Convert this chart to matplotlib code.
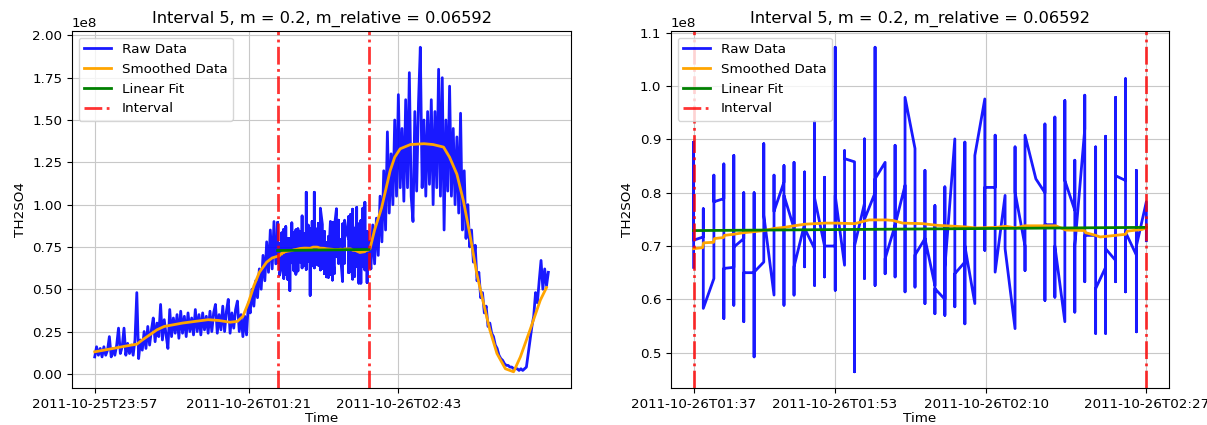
import numpy as np
import matplotlib.pyplot as plt

plt.rcParams['font.size'] = 9.7

# time axis: minutes after 2011-10-25T23:57
interval_start = 100.0   # 01:37
interval_end = 150.0     # 02:27

# raw TH2SO4 (1e8) before the interval, one sample per minute from t=0
pre_values = [
    0.10, 0.16, 0.11, 0.15, 0.10, 0.16, 0.11, 0.14, 0.22, 0.10,
    0.15, 0.11, 0.17, 0.27, 0.12, 0.16, 0.27, 0.11, 0.18, 0.12,
    0.17, 0.11, 0.20, 0.48, 0.09, 0.20, 0.14, 0.25, 0.15, 0.28,
    0.17, 0.26, 0.33, 0.19, 0.30, 0.22, 0.41, 0.20, 0.32, 0.23,
    0.15, 0.38, 0.22, 0.33, 0.24, 0.35, 0.21, 0.37, 0.24, 0.34,
    0.22, 0.36, 0.25, 0.33, 0.23, 0.38, 0.25, 0.35, 0.23, 0.36,
    0.26, 0.34, 0.24, 0.37, 0.25, 0.36, 0.41, 0.24, 0.35, 0.26,
    0.40, 0.25, 0.37, 0.44, 0.24, 0.36, 0.27, 0.38, 0.43, 0.25,
    0.35, 0.22, 0.34, 0.23, 0.42, 0.36, 0.50, 0.40, 0.55, 0.45,
    0.62, 0.50, 0.70, 0.55, 0.78, 0.60, 0.85, 0.62, 0.90, 0.65,
]

# raw TH2SO4 (1e8) after the interval, one sample per minute from t=151
post_values = [
    0.62, 0.88, 0.65, 0.92, 0.70, 1.05, 0.78, 1.20, 0.85, 1.43,
    0.95, 1.30, 1.00, 1.50, 1.05, 1.65, 1.10, 1.45, 1.02, 1.62,
    1.10, 1.78, 1.05, 0.90, 1.55, 1.08, 1.60, 1.93, 1.10, 1.50,
    1.05, 1.55, 1.12, 1.62, 1.00, 1.55, 1.10, 1.80, 1.05, 1.75,
    0.85, 1.50, 1.08, 1.70, 1.05, 1.45, 1.00, 1.40, 0.95, 1.54,
    0.85, 1.20, 0.80, 1.00, 0.75, 0.85, 0.66, 0.76, 0.55, 0.60,
    0.45, 0.48, 0.36, 0.40, 0.28, 0.30, 0.24, 0.22, 0.17, 0.15,
    0.11, 0.09, 0.08, 0.06, 0.05, 0.05, 0.04, 0.04, 0.03, 0.03,
    0.03, 0.02, 0.03, 0.02, 0.03, 0.04, 0.12, 0.20, 0.28, 0.34,
    0.48, 0.42, 0.55, 0.67, 0.50, 0.62, 0.52, 0.60,
]

# raw data inside the interval: minutes after 01:37, several samples per stamp
interval_stamps = [
    0.0, 1.07, 2.24, 3.34, 4.44, 5.54, 6.68, 7.75, 8.88, 9.98,
    11.09, 12.26, 13.36, 14.46, 15.64, 16.67, 17.77, 18.87, 20.04, 21.15,
    22.25, 23.35, 24.45, 25.55, 26.65, 27.75, 28.85, 29.96, 31.06, 32.16,
    33.3, 34.4, 35.5, 36.6, 37.8, 38.8, 39.9, 41.0, 42.1, 43.2,
    44.4, 45.5, 46.6, 47.7, 48.9, 50.0,
]
interval_samples = [
    [0.66, 0.895, 0.711], [0.717, 0.77, 0.583], [0.639, 0.833, 0.783],
    [0.789, 0.854, 0.564, 0.658], [0.66, 0.87, 0.589, 0.698],
    [0.714, 0.80, 0.558, 0.65], [0.65, 0.80, 0.492, 0.651],
    [0.67, 0.892, 0.673, 0.758], [0.608, 0.833, 0.765],
    [0.82, 0.851, 0.589, 0.795], [0.733, 0.857, 0.608, 0.661],
    [0.742, 0.839, 0.661, 0.733], [0.695, 0.933, 0.626, 0.79],
    [0.70, 0.829, 0.642, 0.70], [0.70, 1.073, 0.617, 0.795],
    [0.664, 0.879, 0.864], [0.858, 0.464, 0.70],
    [0.78, 0.901, 0.639, 0.75], [0.80, 1.073, 0.626, 0.826],
    [0.857, 0.648, 0.676], [0.739, 0.889, 0.642, 0.739],
    [0.814, 0.614, 0.979], [0.883, 0.623, 0.683],
    [0.714, 0.842, 0.592, 0.714], [0.626, 0.776, 0.573, 0.62],
    [0.60, 0.811, 0.57, 0.66], [0.901, 0.586, 0.648],
    [0.67, 0.895, 0.554, 0.70], [0.592, 0.867, 0.87],
    [0.976, 0.692, 0.81], [0.81, 0.908, 0.651], [0.795, 0.695],
    [0.545, 0.886, 0.801], [0.70, 0.654, 0.908], [0.826],
    [0.80, 0.929, 0.598, 0.74], [0.74, 0.942, 0.604, 0.70],
    [0.558, 0.973, 0.823], [0.767, 0.861, 0.576, 0.70],
    [0.92, 0.983, 0.633, 0.72], [0.72, 0.886, 0.536, 0.62],
    [0.66, 0.906, 0.536, 0.695], [0.673, 0.979, 0.633, 0.832],
    [0.823, 1.014, 0.614, 0.726], [0.683, 0.842, 0.539, 0.70],
    [0.783, 0.71],
]

# smoothed curve inside the interval (minutes after 01:37)
smooth_int_t = [0, 1.0, 1.1, 2.2, 2.3, 3.3, 3.4, 4.4, 5.5, 6.7, 7.8, 8.9,
                10.0, 11.1, 12.3, 13.4, 14.5, 15.7, 17.8, 18.9, 19.4, 21.3,
                22.0, 23.1, 25.3, 26.8, 29.9, 31.2, 33.4, 34.5, 35.6, 36.6,
                40.0, 41.1, 43.2, 43.3, 44.4, 44.9, 46.6, 47.7, 47.9, 49.5, 50.0]
smooth_int_v = [0.695, 0.697, 0.706, 0.707, 0.714, 0.716, 0.72, 0.722, 0.725,
                0.727, 0.729, 0.733, 0.735, 0.738, 0.741, 0.742, 0.743, 0.743,
                0.742, 0.747, 0.749, 0.749, 0.748, 0.743, 0.742, 0.739, 0.736,
                0.734, 0.735, 0.737, 0.734, 0.738, 0.738, 0.730, 0.729, 0.725,
                0.72, 0.717, 0.72, 0.722, 0.728, 0.731, 0.734]

# smoothed curve outside the interval (minutes after 23:57)
smooth_pre_t = [0, 5, 10, 15, 20, 23, 26, 30, 34, 38, 43, 48, 55, 62, 68, 74,
                78, 81, 84, 87, 90, 94, 97, 99.5]
smooth_pre_v = [0.13, 0.14, 0.15, 0.16, 0.17, 0.175, 0.20, 0.23, 0.26, 0.28,
                0.29, 0.30, 0.31, 0.32, 0.315, 0.305, 0.31, 0.34, 0.42, 0.52,
                0.60, 0.66, 0.685, 0.693]
smooth_post_t = [150.5, 153, 156.8, 161.5, 164, 167, 172.6, 180, 185, 190.7,
                 194, 198, 201.6, 205, 208.9, 212.6, 216, 219.9, 224.5, 229,
                 232.7, 238, 243.6, 247]
smooth_post_v = [0.74, 0.85, 0.98, 1.20, 1.28, 1.33, 1.355, 1.36, 1.355, 1.34,
                 1.28, 1.18, 1.02, 0.83, 0.59, 0.415, 0.26, 0.12, 0.03, 0.012,
                 0.10, 0.26, 0.435, 0.51]

# linear fit values at interval start / end
fit_values = [0.729, 0.735]

left_ticks = [0, 84.3, 166.0]
left_tick_labels = ['2011-10-25T23:57', '2011-10-26T01:21', '2011-10-26T02:43']
right_ticks = [100.0, 115.6, 132.3, 150.0]
right_tick_labels = ['2011-10-26T01:37', '2011-10-26T01:53',
                     '2011-10-26T02:10', '2011-10-26T02:27']

title = 'Interval 5, m = 0.2, m_relative = 0.06592'

# build series
int_t, int_v = [], []
for stamp, group in zip(interval_stamps, interval_samples):
    int_t += [interval_start + stamp] * len(group)
    int_v += group
int_t = np.array(int_t)
int_v = np.array(int_v) * 1e8

pre_t = np.arange(len(pre_values))
post_t = 151 + np.arange(len(post_values))
all_t = np.concatenate([pre_t, int_t, post_t])
all_v = np.concatenate([np.array(pre_values) * 1e8, int_v,
                        np.array(post_values) * 1e8])

s_int_t = interval_start + np.array(smooth_int_t)
s_int_v = np.array(smooth_int_v) * 1e8
s_all_t = np.concatenate([smooth_pre_t, s_int_t, smooth_post_t])
s_all_v = np.concatenate([np.array(smooth_pre_v) * 1e8, s_int_v,
                          np.array(smooth_post_v) * 1e8])

fit_t = [interval_start, interval_end]
fit_v = np.array(fit_values) * 1e8

fig = plt.figure(figsize=(12.07, 4.25), dpi=100)
ax1 = fig.add_axes([0.0597, 0.087, 0.4134, 0.840])
ax2 = fig.add_axes([0.5559, 0.087, 0.4126, 0.840])

for ax, (t, v, st, sv) in zip(
        [ax1, ax2],
        [(all_t, all_v, s_all_t, s_all_v), (int_t, int_v, s_int_t, s_int_v)]):
    ax.plot(t, v, color='blue', lw=2, alpha=0.9, label='Raw Data')
    ax.plot(st, sv, color='orange', lw=2, label='Smoothed Data')
    ax.plot(fit_t, fit_v, color='green', lw=2, label='Linear Fit')
    ax.axvline(interval_start, color='red', ls='-.', lw=2, alpha=0.8,
               label='Interval')
    ax.axvline(interval_end, color='red', ls='-.', lw=2, alpha=0.8)
    ax.set_title(title, fontsize=11.7)
    ax.set_xlabel('Time', labelpad=1)
    ax.set_ylabel('TH2SO4')
    ax.grid(True, color='#c8c8c8')
    ax.legend(loc='upper left')

ax1.set_xticks(left_ticks)
ax1.set_xticklabels(left_tick_labels)
ax2.set_xticks(right_ticks)
ax2.set_xticklabels(right_tick_labels)

fig.savefig('out.png', dpi=100)
